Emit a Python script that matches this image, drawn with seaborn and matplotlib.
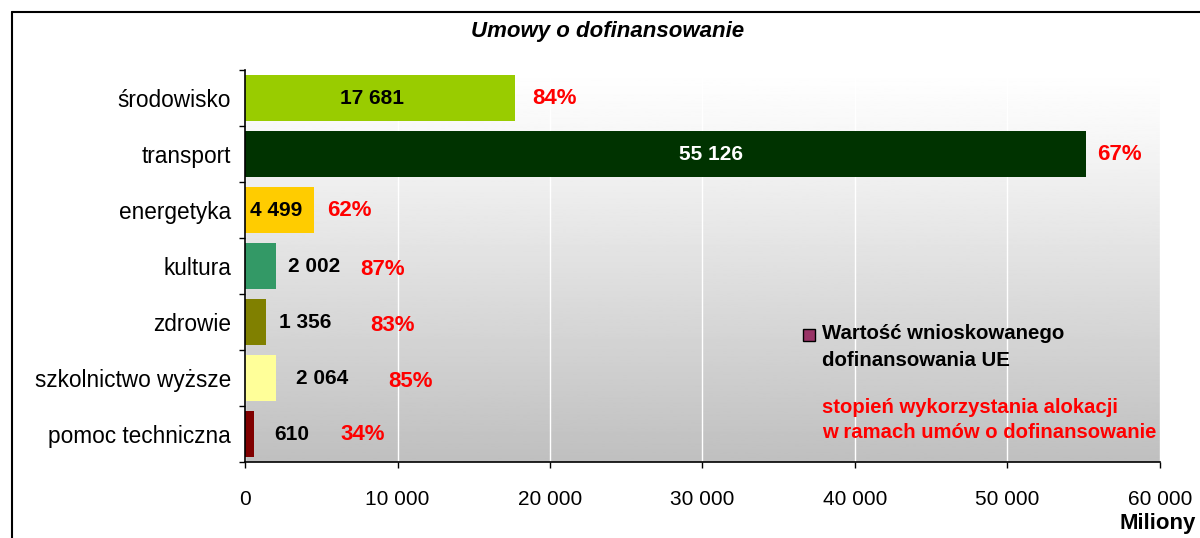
import numpy as np
import pandas as pd
import matplotlib
matplotlib.use("Agg")
import matplotlib.pyplot as plt
from matplotlib.patches import Rectangle
from matplotlib.lines import Line2D
from matplotlib.ticker import FuncFormatter, MultipleLocator
import seaborn as sns

# data
categories = ["środowisko", "transport", "energetyka", "kultura", "zdrowie",
              "szkolnictwo wyższe", "pomoc techniczna"]
values = [17681, 55126, 4499, 2002, 1356, 2064, 610]
percents = [84, 67, 62, 87, 83, 85, 34]
bar_colors = ["#99CC00", "#003300", "#FFCC00", "#339966", "#808000", "#FFFF99", "#800000"]

# label placement (pixels relative to bar end) and style
val_dx_px = [-143, -375, -37, 12, 13, 20, 20]
val_ha = ["center", "center", "center", "left", "left", "left", "left"]
val_colors = ["black", "white", "black", "black", "black", "black", "black"]
pct_dx_px = [18, 11, 14, 85, 105, 112, 86]
pct_dy_px = [0, 0, 0, -3, -3, -3, 0]

sns.set_style("white")
plt.rcParams["font.family"] = ["Liberation Sans", "DejaVu Sans"]
plt.rcParams["text.color"] = "black"
plt.rcParams["xtick.color"] = "black"
plt.rcParams["ytick.color"] = "black"

df = pd.DataFrame({"kategoria": categories, "wartosc": values})

fig = plt.figure(figsize=(12, 5.38), dpi=100)
ax = fig.add_axes([245 / 1200, 1 - 462 / 538, 915 / 1200, 392 / 538])

# gradient background of the plot area
grad = np.concatenate([np.linspace(1.0, 0.97, 40), np.linspace(0.97, 0.75, 216)]).reshape(-1, 1)
ax.imshow(grad, cmap="gray", vmin=0, vmax=1, aspect="auto",
          extent=[0, 1, 0, 1], transform=ax.transAxes, zorder=0)

sns.barplot(data=df, x="wartosc", y="kategoria", hue="kategoria",
            palette=bar_colors, orient="h", width=0.82, saturation=1,
            legend=False, ax=ax, zorder=2, edgecolor="none", linewidth=0)

ax.set_xlim(0, 60000)
ax.set_ylim(6.5, -0.5)
ax.set_xlabel("")
ax.set_ylabel("")
ax.xaxis.set_major_locator(MultipleLocator(10000))
ax.xaxis.set_major_formatter(FuncFormatter(lambda v, p: f"{int(v):,}".replace(",", " ")))
ax.grid(axis="x", color="white", linewidth=1, zorder=1)
ax.set_axisbelow(True)

for s in ["top", "right"]:
    ax.spines[s].set_visible(False)
for s in ["left", "bottom"]:
    ax.spines[s].set_color("black")
    ax.spines[s].set_linewidth(1.2)
    ax.spines[s].set_zorder(5)

ax.tick_params(axis="x", direction="out", length=4, width=1, color="black",
               labelsize=15, pad=16, bottom=True, labelcolor="black")
ax.tick_params(axis="y", which="major", length=0, labelsize=16.3, pad=10,
               labelcolor="black")
ax.set_yticks(np.arange(-0.5, 7, 1), minor=True)
ax.tick_params(axis="y", which="minor", direction="out", length=4, width=1,
               color="black", left=True)

px = 72 / fig.dpi
for i, (v, p) in enumerate(zip(values, percents)):
    ax.annotate(f"{v:,}".replace(",", " "), xy=(v, i),
                xytext=(val_dx_px[i] * px, 0), textcoords="offset points",
                ha=val_ha[i], va="center", fontsize=15, fontweight="bold",
                color=val_colors[i], zorder=6)
    ax.annotate(f"{p}%", xy=(v, i),
                xytext=(pct_dx_px[i] * px, pct_dy_px[i] * px), textcoords="offset points",
                ha="left", va="center", fontsize=16, fontweight="bold",
                color="red", zorder=6)

# legend square and explanatory text
fig.add_artist(Rectangle((803 / 1200, 1 - 341 / 538), 12 / 1200, 12 / 538,
                         transform=fig.transFigure, facecolor="#993366",
                         edgecolor="black", linewidth=1))
fig.text(822 / 1200, 1 - 347 / 538, "Wartość wnioskowanego\ndofinansowania UE",
         color="black", fontsize=14.7, fontweight="bold", ha="left", va="center",
         linespacing=1.5)
fig.text(822 / 1200, 1 - 420 / 538,
         "stopień wykorzystania alokacji\nw ramach umów o dofinansowanie",
         color="red", fontsize=14.6, fontweight="bold", ha="left", va="center",
         linespacing=1.45)

fig.text(608 / 1200, 1 - 31 / 538, "Umowy o dofinansowanie", ha="center", va="center",
         fontsize=16, fontweight="bold", fontstyle="italic", color="black")
fig.text(1196 / 1200, 1 - 523 / 538, "Miliony", ha="right", va="center",
         fontsize=16, fontweight="bold", color="black")

# outer frame of the chart
fig.add_artist(Line2D([12 / 1200, 1.0], [1 - 12 / 538, 1 - 12 / 538],
                      transform=fig.transFigure, color="black", linewidth=1.5))
fig.add_artist(Line2D([12 / 1200, 12 / 1200], [0, 1 - 12 / 538],
                      transform=fig.transFigure, color="black", linewidth=1.5))

fig.savefig("out.png", dpi=100)
